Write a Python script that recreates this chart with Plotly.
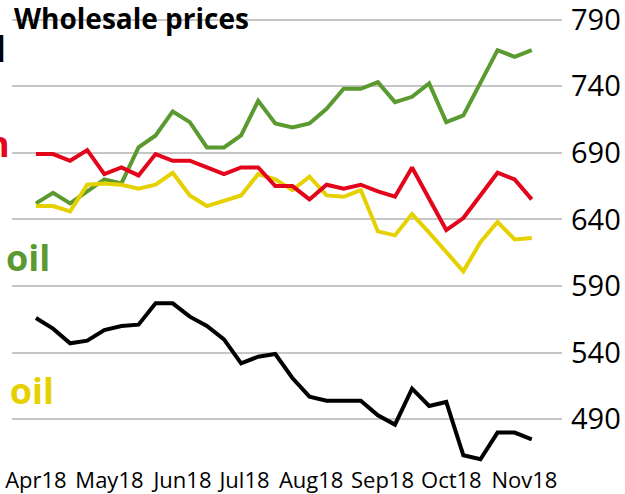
import plotly.graph_objects as go

# Weekly wholesale prices, Apr-Nov 2018
weeks = list(range(30))
black = [566, 558, 547, 549, 557, 560, 561, 577, 577, 567, 560, 550, 532, 537, 539,
         521, 507, 504, 504, 504, 493, 486, 513, 500, 503, 463, 460, 480, 480, 475]
green = [652, 660, 652, 661, 670, 667, 694, 703, 721, 713, 694, 694, 703, 729, 712,
         709, 712, 723, 738, 738, 743, 728, 732, 742, 713, 718, 742, 767, 762, 767]
yellow = [650, 650, 646, 666, 667, 666, 663, 666, 675, 658, 650, 654, 658, 674, 670,
          662, 672, 658, 657, 662, 631, 628, 644, 630, 615, 601, 623, 638, 625, 626]
red = [689, 689, 684, 692, 674, 679, 673, 689, 684, 684, 679, 674, 679, 679, 665,
       665, 655, 666, 663, 666, 661, 657, 679, 656, 632, 641, 658, 675, 670, 655]

month_labels = ["Apr18", "May18", "Jun18", "Jul18", "Aug18", "Sep18", "Oct18", "Nov18"]
month_pos = [0, 4.3, 8.57, 12.2, 16.1, 20.27, 24.3, 28.57]
y_ticks = [490, 540, 590, 640, 690, 740, 790]

GREEN = "#5a9a30"
RED = "#e3051b"
YELLOW = "#e6d100"

fig = go.Figure()
for vals, col in [(black, "black"), (green, GREEN), (yellow, YELLOW), (red, RED)]:
    fig.add_trace(go.Scatter(x=weeks, y=vals, mode="lines",
                             line=dict(color=col, width=4), hoverinfo="skip"))

# series labels, cut off by the left edge as in the original
labels = [
    ("Diesel", "black", -0.0073, 768.5),
    ("Aviation", RED, 0.0, 696.6),
    ("Gas oil", GREEN, 0.0727, 611.5),
    ("Fuel\u2003oil", YELLOW, 0.08, 511.5),
]
for txt, col, xp, yv in labels:
    fig.add_annotation(text=txt, xref="paper", x=xp, xanchor="right",
                       yref="y", y=yv, yanchor="middle", showarrow=False,
                       font=dict(family="Open Sans", size=36, color=col, weight="bold"))

fig.add_annotation(text="Wholesale prices", xref="paper", x=0, xanchor="left",
                   yref="y", y=791.1, yanchor="middle", showarrow=False,
                   font=dict(family="Open Sans", size=28, color="black", weight="bold"))

fig.update_layout(
    width=625, height=494,
    margin=dict(l=12, r=63, t=10, b=29),
    plot_bgcolor="white", paper_bgcolor="white",
    showlegend=False,
    font=dict(family="Open Sans", color="black"),
)
fig.update_xaxes(range=[-1.4, 30.77], tickvals=month_pos, ticktext=month_labels,
                 showgrid=False, zeroline=False, showline=False, ticks="",
                 tickfont=dict(size=22), ticklabeloverflow="allow", automargin=False)
fig.update_yaxes(range=[455.7, 797.13], tickvals=y_ticks, side="right",
                 showgrid=True, gridcolor="#c6c6c6", gridwidth=1.5,
                 zeroline=False, showline=False, ticks="",
                 tickfont=dict(size=29), ticklabelstandoff=8,
                 ticklabeloverflow="allow", automargin=False)

fig.write_html("out.html", config={"displayModeBar": False},
               post_script="document.body.style.margin='0';")
